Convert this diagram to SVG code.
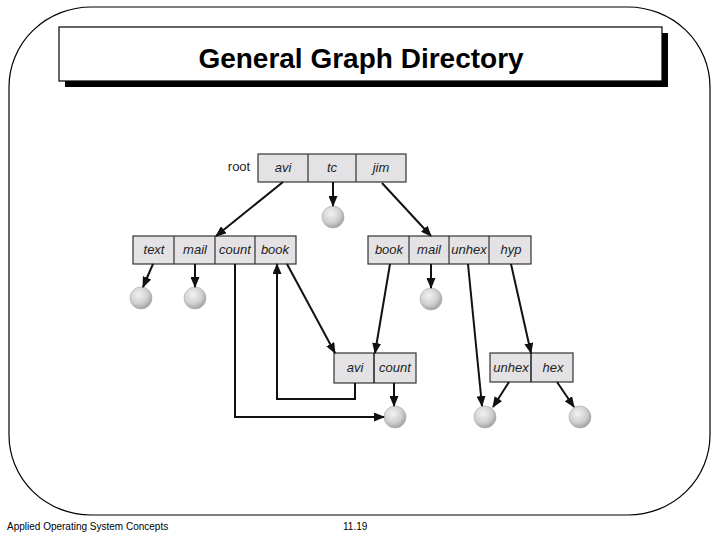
<svg xmlns="http://www.w3.org/2000/svg" width="720" height="540" viewBox="0 0 720 540">
<defs>
<style>
.frame{fill:none;stroke:#000;stroke-width:1.2}
.cell{fill:#e4e2e4;stroke:#333;stroke-width:1.2}
.lbl{font-family:"Liberation Sans",Arial,sans-serif;font-size:13px;font-style:italic;fill:#222;text-anchor:middle}
.conn{fill:none;stroke:#111;stroke-width:2}
.ball{fill:url(#bg);stroke:#aaa;stroke-width:0.6}
.foot{font-family:"Liberation Sans",Arial,sans-serif;font-size:10px;fill:#000}
</style>
<radialGradient id="bg" cx="0.4" cy="0.35" r="0.7">
<stop offset="0" stop-color="#f2f2f2"/>
<stop offset="0.6" stop-color="#cfcfcf"/>
<stop offset="1" stop-color="#9a9a9a"/>
</radialGradient>
<marker id="ah" markerUnits="userSpaceOnUse" markerWidth="11" markerHeight="9" refX="10" refY="4.5" orient="auto">
<path d="M0,0 L11,4.5 L0,9 z" fill="#111"/>
</marker>
</defs>
<rect width="720" height="540" fill="#fff"/>
<rect class="frame" x="9" y="7" width="701" height="508" rx="82" ry="80"/>
<g id="title">
<rect x="65" y="33" width="603" height="54" fill="#000"/>
<rect x="59" y="27" width="603" height="54" fill="#fff" stroke="#000" stroke-width="1.2"/>
<text x="361" y="68" font-family="'Liberation Sans',Arial,sans-serif" font-size="28" font-weight="bold" text-anchor="middle">General Graph Directory</text>
</g>
<g id="root">
<text x="239" y="171" font-family="'Liberation Sans',Arial,sans-serif" font-size="13" fill="#222" text-anchor="middle">root</text>
<rect class="cell" x="258" y="154" width="148" height="28"/>
<line x1="308" y1="154" x2="308" y2="182" stroke="#333" stroke-width="1.2"/>
<line x1="356" y1="154" x2="356" y2="182" stroke="#333" stroke-width="1.2"/>
<text class="lbl" x="283" y="172">avi</text>
<text class="lbl" x="332" y="172">tc</text>
<text class="lbl" x="381" y="172">jim</text>
</g>
<g id="avi-dir">
<rect class="cell" x="133" y="236" width="163" height="28"/>
<line x1="174" y1="236" x2="174" y2="264" stroke="#333" stroke-width="1.2"/>
<line x1="215" y1="236" x2="215" y2="264" stroke="#333" stroke-width="1.2"/>
<line x1="255" y1="236" x2="255" y2="264" stroke="#333" stroke-width="1.2"/>
<text class="lbl" x="154" y="254">text</text>
<text class="lbl" x="195" y="254">mail</text>
<text class="lbl" x="235" y="254">count</text>
<text class="lbl" x="275" y="254">book</text>
</g>
<g id="jim-dir">
<rect class="cell" x="368" y="236" width="163" height="28"/>
<line x1="409" y1="236" x2="409" y2="264" stroke="#333" stroke-width="1.2"/>
<line x1="449" y1="236" x2="449" y2="264" stroke="#333" stroke-width="1.2"/>
<line x1="489" y1="236" x2="489" y2="264" stroke="#333" stroke-width="1.2"/>
<text class="lbl" x="389" y="254">book</text>
<text class="lbl" x="429" y="254">mail</text>
<text class="lbl" x="469" y="254">unhex</text>
<text class="lbl" x="511" y="254">hyp</text>
</g>
<g id="book-dir">
<rect class="cell" x="334" y="353" width="82" height="30"/>
<line x1="374" y1="353" x2="374" y2="383" stroke="#111" stroke-width="1.4"/>
<text class="lbl" x="355" y="372">avi</text>
<text class="lbl" x="395" y="372">count</text>
</g>
<g id="hyp-dir">
<rect class="cell" x="490" y="353" width="83" height="29"/>
<line x1="531" y1="353" x2="531" y2="382" stroke="#111" stroke-width="1.4"/>
<text class="lbl" x="511" y="372">unhex</text>
<text class="lbl" x="553" y="372">hex</text>
</g>
<g id="files">
<circle id="f-tc" class="ball" cx="333" cy="217" r="11"/>
<circle id="f-text" class="ball" cx="141" cy="298" r="11"/>
<circle id="f-mail" class="ball" cx="195" cy="298" r="11"/>
<circle id="f-jmail" class="ball" cx="431" cy="299" r="11"/>
<circle id="f-count" class="ball" cx="395" cy="417" r="11"/>
<circle id="f-unhex" class="ball" cx="485" cy="417" r="11"/>
<circle id="f-hex" class="ball" cx="580" cy="417" r="11"/>
</g>
<g id="connectors">
<line class="conn" x1="283" y1="182" x2="216" y2="236" marker-end="url(#ah)"/>
<line class="conn" x1="333" y1="182" x2="333" y2="206" marker-end="url(#ah)"/>
<line class="conn" x1="382" y1="183" x2="431" y2="236" marker-end="url(#ah)"/>
<line class="conn" x1="153" y1="264" x2="143" y2="287" marker-end="url(#ah)"/>
<line class="conn" x1="195" y1="264" x2="195" y2="287" marker-end="url(#ah)"/>
<path class="conn" d="M235,264 V417 H384" marker-end="url(#ah)"/>
<line class="conn" x1="287" y1="264" x2="335" y2="353" marker-end="url(#ah)"/>
<path class="conn" d="M355,383 V399 H277 V264" marker-end="url(#ah)"/>
<line class="conn" x1="390" y1="264" x2="375" y2="353" marker-end="url(#ah)"/>
<line class="conn" x1="431" y1="264" x2="431" y2="288" marker-end="url(#ah)"/>
<line class="conn" x1="468" y1="264" x2="482" y2="406" marker-end="url(#ah)"/>
<line class="conn" x1="511" y1="264" x2="531" y2="353" marker-end="url(#ah)"/>
<line class="conn" x1="394" y1="383" x2="394" y2="406" marker-end="url(#ah)"/>
<line class="conn" x1="509" y1="382" x2="493" y2="407" marker-end="url(#ah)"/>
<line class="conn" x1="557" y1="382" x2="574" y2="407" marker-end="url(#ah)"/>
</g>
<text class="foot" x="7" y="530">Applied Operating System Concepts</text>
<text class="foot" x="343" y="530">11.19</text>
</svg>
